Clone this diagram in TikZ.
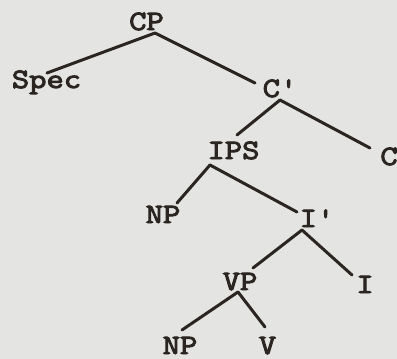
\documentclass[tikz,border=0pt]{standalone}
\usepackage{fontspec}
\newfontfamily\cour[FakeStretch=1.2,FakeBold=3.5]{Latin Modern Mono}
\usetikzlibrary{calc}
\definecolor{bg}{RGB}{228,228,226}
\definecolor{ink}{RGB}{43,37,34}
\begin{document}
\begin{tikzpicture}[x=1pt,y=-1pt,
  lab/.style={anchor=base,inner sep=0pt,text=ink,font=\cour\fontsize{28}{28}\selectfont},
  edge/.style={draw=ink,line width=3pt,line cap=round}]
\fill[bg] (0,0) rectangle (397,359);
\useasboundingbox (0,0) rectangle (397,359);
\node[lab] (CP) at (146.5,30) {CP};
\node[lab] (Spec) at (46.5,88) {Spec};
\node[lab] (Cb) at (280,97) {C'};
\node[lab] (IPS) at (233.5,159) {IPS};
\node[lab] (C) at (389,165) {C};
\node[lab] (NPa) at (163,223) {NP};
\node[lab] (Ib) at (317,227) {I'};
\node[lab] (VP) at (240,290) {VP};
\node[lab] (I) at (365,293) {I};
\node[lab] (NPb) at (180,354) {NP};
\node[lab] (V) at (267.5,354) {V};
\draw[edge] ($(CP.base)+(8.5,3)$) -- ($(Spec.base)+(0.5,-15)$);
\draw[edge] ($(CP.base)+(8.5,3)$) -- ($(Cb.base)+(-25,-14)$);
\draw[edge] ($(Cb.base)+(0,3)$) -- ($(IPS.base)+(3.5,-24)$);
\draw[edge] ($(Cb.base)+(0,3)$) -- ($(C.base)+(-19,-17)$);
\draw[edge] ($(IPS.base)+(-23.5,6)$) -- ($(NPa.base)+(14,-20)$);
\draw[edge] ($(IPS.base)+(-23.5,6)$) -- ($(Ib.base)+(-20,-15)$);
\draw[edge] ($(Ib.base)+(-15,3)$) -- ($(VP.base)+(13,-22)$);
\draw[edge] ($(Ib.base)+(-15,3)$) -- ($(I.base)+(-13,-18)$);
\draw[edge] ($(VP.base)+(-2,2)$) -- ($(NPb.base)+(2,-24)$);
\draw[edge] ($(VP.base)+(-2,2)$) -- ($(V.base)+(-2.5,-27)$);
\end{tikzpicture}
\end{document}
